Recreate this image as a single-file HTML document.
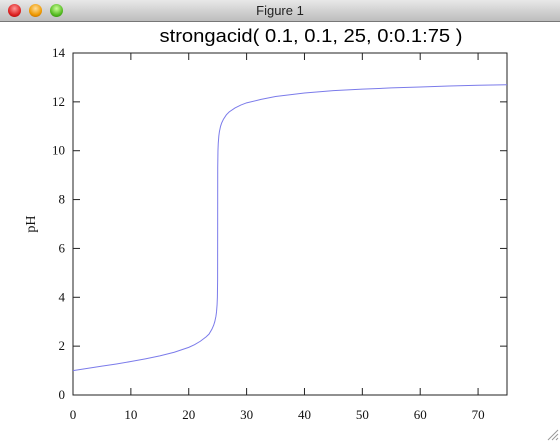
<!DOCTYPE html>
<html><head><meta charset="utf-8"><style>
body{margin:0;width:560px;height:442px;overflow:hidden;background:#fff;font-family:"Liberation Sans",sans-serif}
#titlebar{position:absolute;left:0;top:0;width:560px;height:21px;background:linear-gradient(#e8e8e8,#bdbdbd);border-bottom:1px solid #777;text-align:center;font-size:13px;line-height:21px;color:#222}
.btn{position:absolute;top:4px;width:13px;height:13px;border-radius:50%}
</style></head><body>
<div id="titlebar">Figure 1
<div class="btn" style="left:8px;background:radial-gradient(circle at 50% 35%,#f99,#d22 60%,#900)"></div>
<div class="btn" style="left:29px;background:radial-gradient(circle at 50% 35%,#fd9,#e90 60%,#a50)"></div>
<div class="btn" style="left:50px;background:radial-gradient(circle at 50% 35%,#cf9,#5b2 60%,#270)"></div>
</div>
<svg id="chart" width="560" height="442" style="position:absolute;left:0;top:0"></svg>
<script>
const volumes=[0,2.5,5,7.5,10,12.5,15,17.5,20,21,22,23,23.5,24,24.3,24.5,24.7,24.8,24.9,24.95,24.99,25,25.01,25.05,25.1,25.2,25.3,25.5,25.7,26,26.5,27,28,29,30,32.5,35,40,45,50,55,60,65,70,75];
const phValues=[1.00,1.09,1.18,1.27,1.37,1.48,1.60,1.75,1.95,2.06,2.20,2.38,2.49,2.69,2.85,3.00,3.22,3.40,3.70,4.00,4.70,7.00,9.30,10.00,10.30,10.60,10.78,11.00,11.14,11.29,11.47,11.59,11.75,11.87,11.96,12.10,12.22,12.36,12.46,12.52,12.57,12.61,12.65,12.68,12.70];
const xTicks=[0,10,20,30,40,50,60,70];
const yTicks=[0,2,4,6,8,10,12,14];
const NS="http://www.w3.org/2000/svg";
const svg=document.getElementById('chart');
const L=73,R=507,T=53,B=395,xMax=75,yMax=14;
const xs=v=>L+(R-L)*v/xMax, ys=v=>B-(B-T)*v/yMax;
function mk(tag,attrs){const e=document.createElementNS(NS,tag);for(const k in attrs)e.setAttribute(k,attrs[k]);svg.appendChild(e);return e;}
const frame=mk('rect',{x:L,y:T,width:R-L,height:B-T,fill:'none',stroke:'#222','stroke-width':1});


xTicks.forEach(t=>{
  const x=xs(t);
  const a=mk('line',{x1:x,y1:B,x2:x,y2:B-7,stroke:'#222'});
  
  
  const b=mk('line',{x1:x,y1:T,x2:x,y2:T+7,stroke:'#222'});
  
  
  const tx=mk('text',{x:x,y:B+24,'text-anchor':'middle','font-family':'Liberation Serif,serif','font-size':13,fill:'#111'});
  tx.textContent=t;
  
  
});
yTicks.forEach(t=>{
  const y=ys(t);
  const a=mk('line',{x1:L,y1:y,x2:L+7,y2:y,stroke:'#222'});
  
  
  const b=mk('line',{x1:R,y1:y,x2:R-7,y2:y,stroke:'#222'});
  
  
  const tx=mk('text',{x:L-8,y:y+4,'text-anchor':'end','font-family':'Liberation Serif,serif','font-size':13,fill:'#111'});
  tx.textContent=t;
  
  
});
const line=mk('polyline',{points:volumes.map((v,i)=>xs(v).toFixed(2)+','+ys(phValues[i]).toFixed(2)).join(' '),fill:'none',stroke:'#7b7bea','stroke-width':1});


const title=mk('text',{x:311,y:42,'text-anchor':'middle','font-size':18,fill:'#000',textLength:303,lengthAdjust:'spacingAndGlyphs'});
title.textContent='strongacid( 0.1, 0.1, 25, 0:0.1:75 )';


const yl=mk('text',{x:0,y:0,'text-anchor':'middle','font-family':'Liberation Serif,serif','font-size':14,fill:'#111',transform:'translate(35,224) rotate(-90)'});
yl.textContent='pH';


const grip=mk('path',{d:'M548 440 L558 430 M552 440 L558 434 M556 440 L558 438',stroke:'#999','stroke-width':1});


</script>
</body></html>
